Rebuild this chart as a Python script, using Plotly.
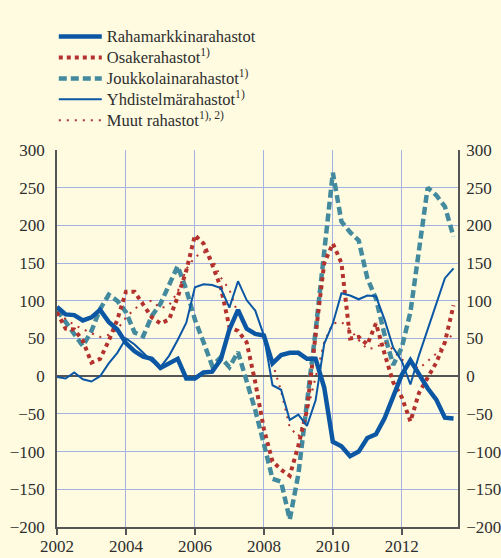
import plotly.graph_objects as go

# Quarterly time points (decimal years)
quarters = [2002.00, 2002.25, 2002.50, 2002.75, 2003.00, 2003.25, 2003.50, 2003.75,
            2004.00, 2004.25, 2004.50, 2004.75, 2005.00, 2005.25, 2005.50, 2005.75,
            2006.00, 2006.25, 2006.50, 2006.75, 2007.00, 2007.25, 2007.50, 2007.75,
            2008.00, 2008.25, 2008.50, 2008.75, 2009.00, 2009.25, 2009.50, 2009.75,
            2010.00, 2010.25, 2010.50, 2010.75, 2011.00, 2011.25, 2011.50, 2011.75,
            2012.00, 2012.25, 2012.50, 2012.75, 2013.00, 2013.25, 2013.50]

rahamarkkina = [92, 82, 81, 74, 78, 88, 72, 62, 44, 33, 26, 23, 11, 17, 23, -3,
                -3, 5, 6, 22, 62, 88, 63, 56, 54, 17, 28, 31, 31, 23, 23, -15,
                -87, -93, -106, -100, -82, -77, -56, -27, 2, 21, 2, -16, -31, -55, -56]

osake = [85, 63, 62, 47, 18, 23, 47, 75, 112, 112, 95, 78, 70, 75, 105, 140,
         187, 176, 148, 118, 65, 60, 45, -8, -70, -113, -124, -132, -92, -45, 55, 150,
         176, 150, 50, 52, 42, 70, 30, -8, -28, -60, -22, -3, 18, 45, 94]

joukkolaina = [88, 72, 54, 40, 60, 89, 108, 100, 85, 58, 53, 80, 96, 120, 146, 115,
               75, 45, 14, 25, 12, 32, -5, -45, -90, -136, -140, -190, -130, -40, 60, 165,
               270, 205, 191, 180, 130, 103, 55, 15, 38, 85, 165, 250, 240, 225, 185]

yhdistelma = [-1, -3, 5, -4, -7, 0, 17, 31, 50, 42, 31, 20, 12, 27, 48, 71,
              118, 122, 121, 117, 91, 126, 101, 87, 54, -12, -18, -58, -51, -66, -32, 43,
              70, 110, 107, 102, 107, 106, 75, 38, 20, -11, 28, 62, 95, 130, 143]

muut = [82, 76, 68, 62, 57, 52, 55, 62, 78, 89, 98, 100, 90, 94, 112, 142,
        158, 165, 156, 131, 115, 82, 62, 58, 52, 18, -20, -68, -80, -48, 0, 45,
        70, 72, 62, 48, 36, 38, 45, 35, 22, 17, 10, 20, 30, 44, 57]

series_names = ["Rahamarkkinarahastot", "Osakerahastot<sup>1)</sup>",
                "Joukkolainarahastot<sup>1)</sup>", "Yhdistelmärahastot<sup>1)</sup>",
                "Muut rahastot<sup>1), 2)</sup>"]

year_ticks = [2002, 2004, 2006, 2008, 2010, 2012]
y_ticks = [-200, -150, -100, -50, 0, 50, 100, 150, 200, 250, 300]

BLUE = "#0b57a4"
RED = "#b3322e"
TEAL = "#448a9e"
GRID = "#a3b2e0"
AXIS = "#555555"
BG = "#fefbe1"
FONT = "Liberation Serif, Times New Roman, serif"
TXT = "#2e2e2e"


def lbl(s):
    # legend label drawn a little larger while the legend rows stay compact
    return "<span style='font-size:16.5px'>" + s + "</span>"


fig = go.Figure()

fig.add_trace(go.Scatter(x=quarters, y=joukkolaina, mode="lines",
                         name=lbl(series_names[2]),
                         line=dict(color=TEAL, width=4.5, dash="8px,4px"),
                         legendrank=3))
fig.add_trace(go.Scatter(x=quarters, y=muut, mode="lines",
                         name=lbl(series_names[4]),
                         line=dict(color=RED, width=2, dash="2px,6px"),
                         legendrank=5))
fig.add_trace(go.Scatter(x=quarters, y=osake, mode="lines",
                         name=lbl(series_names[1]),
                         line=dict(color=RED, width=4, dash="4px,4px"),
                         legendrank=2))
fig.add_trace(go.Scatter(x=quarters, y=yhdistelma, mode="lines",
                         name=lbl(series_names[3]),
                         line=dict(color=BLUE, width=2),
                         legendrank=4))
fig.add_trace(go.Scatter(x=quarters, y=rahamarkkina, mode="lines",
                         name=lbl(series_names[0]),
                         line=dict(color=BLUE, width=4.5),
                         legendrank=1))
# transparent copy to anchor the right-hand axis
fig.add_trace(go.Scatter(x=quarters, y=rahamarkkina, mode="lines", yaxis="y2",
                         line=dict(color="rgba(0,0,0,0)", width=0),
                         showlegend=False, hoverinfo="skip"))

fig.update_layout(
    width=501, height=558,
    margin=dict(l=57, r=43, t=150, b=31, autoexpand=False),
    paper_bgcolor=BG, plot_bgcolor=BG,
    font=dict(family=FONT, size=17, color=TXT),
    showlegend=True,
    legend=dict(x=-0.008, y=1.342, xanchor="left", yanchor="top",
                bgcolor="rgba(0,0,0,0)", borderwidth=0,
                font=dict(family=FONT, size=13.8, color=TXT),
                itemwidth=43, tracegroupgap=0),
    xaxis=dict(range=[2002, 2013.63], tickvals=year_ticks,
               ticktext=[str(y) for y in year_ticks],
               showgrid=True, gridcolor=GRID, gridwidth=1,
               showline=True, linecolor=AXIS, linewidth=1.5,
               ticks="outside", ticklen=6, tickcolor=AXIS, tickwidth=1.5,
               ticklabelstandoff=-3,
               zeroline=False, tickfont=dict(family=FONT, size=17, color=TXT),
               automargin=False),
    yaxis=dict(range=[-200, 300], tickvals=y_ticks,
               showgrid=True, gridcolor=GRID, gridwidth=1,
               showline=True, linecolor=AXIS, linewidth=1.5,
               zeroline=True, zerolinecolor=AXIS, zerolinewidth=1.5,
               ticks="", ticklabelstandoff=7,
               tickfont=dict(family=FONT, size=17, color=TXT),
               automargin=False),
    yaxis2=dict(range=[-200, 300], tickvals=y_ticks, overlaying="y", side="right",
                showgrid=False, showline=True, linecolor=AXIS, linewidth=1.5,
                zeroline=False, ticks="", ticklabelstandoff=3,
                tickfont=dict(family=FONT, size=17, color=TXT), automargin=False),
)

fig.write_html("out.html",
               config={"displayModeBar": False},
               post_script="document.body.style.margin='0';document.body.style.padding='0';")
